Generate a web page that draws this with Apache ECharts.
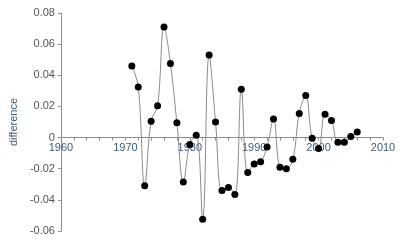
<!DOCTYPE html>
<html><head><meta charset="utf-8">
<script src="https://cdn.jsdelivr.net/npm/echarts@6/dist/echarts.min.js"></script>
<style>html,body{margin:0;padding:0;background:#fff}#c{width:400px;height:245px}</style>
</head><body><div id="c"></div>
<script>
var years = [1971,1972,1973,1974,1975,1976,1977,1978,1979,1980,1981,1982,1983,1984,1985,1986,1987,1988,1989,1990,1991,1992,1993,1994,1995,1996,1997,1998,1999,2000,2001,2002,2003,2004,2005,2006];
var diffs = [0.046,0.0325,-0.031,0.0105,0.0205,0.071,0.0475,0.0095,-0.0285,-0.0045,0.0015,-0.0525,0.053,0.01,-0.034,-0.032,-0.0365,0.031,-0.0225,-0.017,-0.0155,-0.006,0.012,-0.019,-0.020,-0.014,0.0155,0.027,-0.0005,-0.007,0.015,0.011,-0.003,-0.003,0.0007,0.0035];
var yMin = -0.06, yMax = 0.08;
var gTop = 13, gBottom = 14, H = 245;
var plotH = H - gTop - gBottom;
var zeroOffset = -(0 - yMin) / (yMax - yMin) * plotH;
var data = years.map(function(y,i){return [y, diffs[i]];});
var chart = echarts.init(document.getElementById('c'), null, {renderer:'canvas'});
chart.setOption({
  animation:false,
  grid:{left:59,right:17,top:gTop,bottom:gBottom},
  xAxis:{type:'value',min:1960,max:2010,interval:10,position:'bottom',offset:zeroOffset,
    axisLine:{onZero:false,lineStyle:{color:'#8c8c8c',width:1}},
    axisTick:{show:true,length:3,lineStyle:{color:'#8c8c8c'}},
    minorTick:{show:true,splitNumber:5,length:3,lineStyle:{color:'#8c8c8c'}},
    splitLine:{show:false},
    axisLabel:{color:'#3d5a7a',fontFamily:'Liberation Sans, Arial',fontSize:11,margin:5,
      formatter:function(v){return String(v);}}},
  yAxis:{type:'value',min:yMin,max:yMax,interval:0.02,
    name:'difference',nameLocation:'middle',nameGap:40,
    nameTextStyle:{color:'#3d5a7a',fontFamily:'Liberation Sans, Arial',fontSize:11},
    axisLine:{show:true,lineStyle:{color:'#8c8c8c',width:1}},
    axisTick:{show:true,length:3,lineStyle:{color:'#8c8c8c'}},
    splitLine:{show:false},
    axisLabel:{color:'#555',fontFamily:'Liberation Sans, Arial',fontSize:11,margin:6,
      formatter:function(v){return (Math.abs(v)<1e-9)?'0':String(+v.toFixed(2));}}},
  series:[{type:'line',data:data,smooth:0.4,
    lineStyle:{color:'#8a8a8a',width:1},
    symbol:'circle',symbolSize:7,itemStyle:{color:'#000'}}]
});
</script></body></html>
